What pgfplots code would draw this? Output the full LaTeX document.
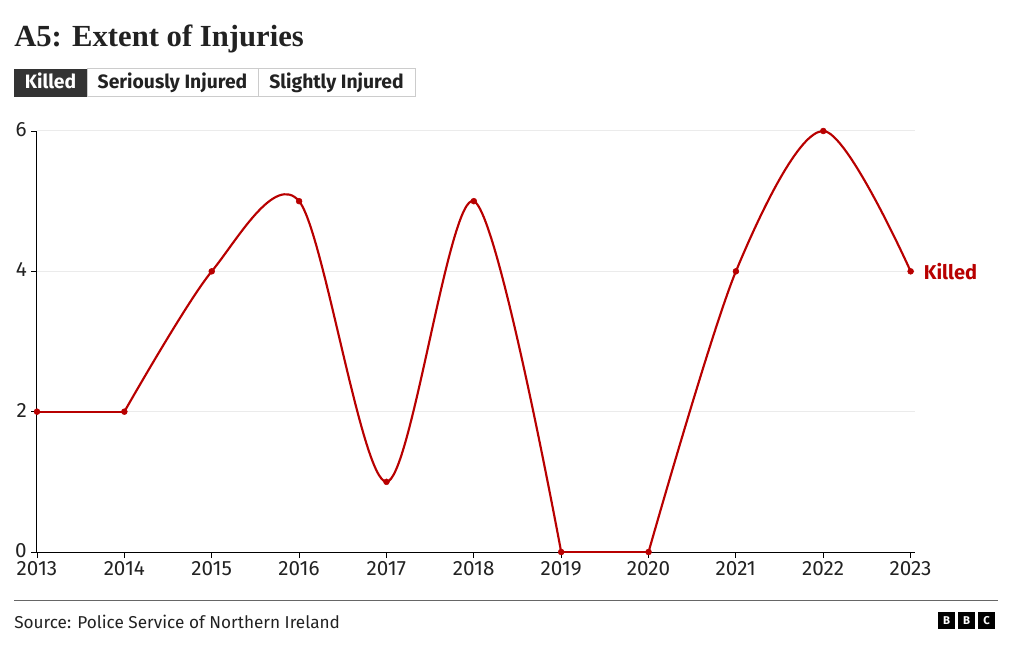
\documentclass[border=0pt]{standalone}
\usepackage{pgfplots}
\pgfplotsset{compat=1.18}
\usepackage{pgfplotstable}
\usepackage{fontspec}
\setmainfont{Fira Sans}
\newfontfamily\titlefont{Liberation Serif}
\definecolor{bbcred}{HTML}{B80000}
\definecolor{txt}{HTML}{222222}
\definecolor{tabdark}{HTML}{333333}
\definecolor{gridc}{HTML}{EBEBEB}
\definecolor{tabborder}{HTML}{CCCCCC}
\pgfplotstableread{
year value
2013 2
2014 2
2015 4
2016 5
2017 1
2018 5
2019 0
2020 0
2021 4
2022 6
2023 4
}\killed
\begin{document}
\begin{tikzpicture}[x=0.75pt,y=0.75pt]
\path[use as bounding box] (0,0) rectangle (1020,650);
% title
\node[anchor=base west,inner sep=0,font=\titlefont\bfseries\fontsize{23}{26}\selectfont,text=txt] at (14,{650-47}) {A5: Extent of Injuries};
% tabs
\fill[tabdark] (14,{650-69}) rectangle (87,{650-97});
\draw[tabborder,line width=0.75pt] (87,{650-69}) rectangle (415,{650-97});
\draw[tabborder,line width=0.75pt] (258,{650-69}) -- (258,{650-97});
\node[anchor=base,inner sep=0,font=\bfseries\fontsize{14.5}{16}\selectfont,text=white] at (50.5,{650-88.5}) {Killed};
\node[anchor=base,inner sep=0,font=\bfseries\fontsize{14.5}{16}\selectfont,text=txt] at (172.5,{650-88.5}) {Seriously Injured};
\node[anchor=base,inner sep=0,font=\bfseries\fontsize{14.5}{16}\selectfont,text=txt] at (336.5,{650-88.5}) {Slightly Injured};
% footer
\draw[gray!80!black,line width=0.75pt] (14,{650-600}) -- (998,{650-600});
\node[anchor=base west,inner sep=0,font=\fontsize{12.9}{14}\selectfont,text=txt] at (14,{650-628}) {Source: Police Service of Northern Ireland};
\foreach \i/\l in {0/B,1/B,2/C}{
  \fill[black] ({938+\i*20},{650-612}) rectangle ({955+\i*20},{650-629});
  \node[text=white,font=\bfseries\fontsize{8.5}{10}\selectfont,inner sep=0] at ({946.5+\i*20},{650-620.5}) {\l};
}
\begin{axis}[
  at={(27.75pt,73.5pt)}, anchor=south west,
  scale only axis, width=658.5pt, height=315.75pt,
  xmin=2013, xmax=2023.05, ymin=0, ymax=6,
  axis lines=left, axis line style={-, line width=0.75pt, black},
  xtick={2013,...,2023}, ytick={0,2,4,6},
  tick align=outside, major tick length=4.5pt,
  tick style={black, line width=0.6pt},
  ymajorgrids, grid style={gridc, line width=0.75pt},
  /pgf/number format/assume math mode=true,
  /pgf/number format/1000 sep={},
  tick label style={font=\fontsize{15.5}{17}\selectfont, text=txt, inner sep=0.5pt},
  xticklabel style={yshift=-1.8pt},
  yticklabel style={xshift=-2.5pt, yshift=1.2pt},
  clip=false,
]
\addplot[bbcred, line width=1.6pt, restrict x to domain=2013:2014] table[x=year,y=value] {\killed};
\addplot[bbcred, line width=1.6pt, smooth, tension=0.5, restrict x to domain=2014:2019] table[x=year,y=value] {\killed};
\addplot[bbcred, line width=1.6pt, restrict x to domain=2019:2020] table[x=year,y=value] {\killed};
\addplot[bbcred, line width=1.6pt, smooth, tension=0.5, restrict x to domain=2020:2023] table[x=year,y=value] {\killed};
\addplot[only marks, mark=*, mark size=2.2pt, bbcred] table[x=year,y=value] {\killed};
\node[anchor=west, text=bbcred, font=\bfseries\fontsize{15}{17}\selectfont, inner sep=0] at (axis cs:2023,4) [xshift=9.75pt] {Killed};
\end{axis}
\end{tikzpicture}
\end{document}
